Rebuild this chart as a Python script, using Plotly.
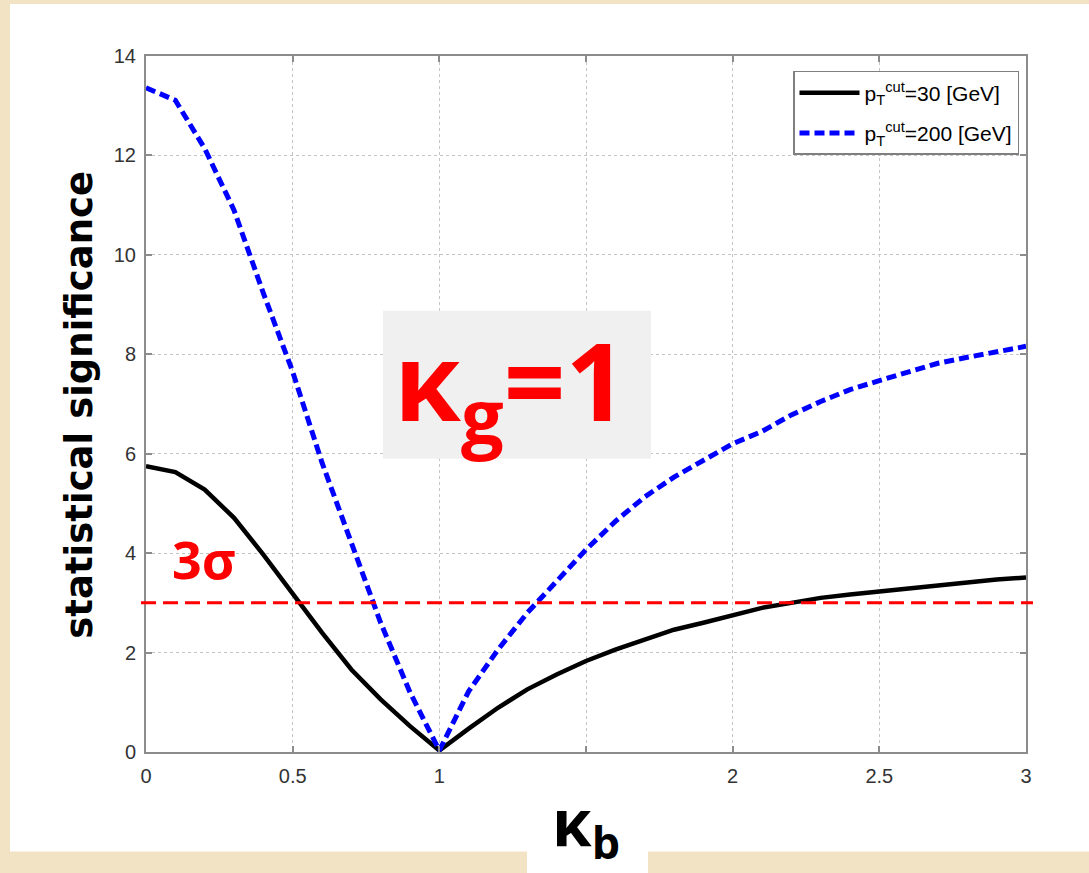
import plotly.graph_objects as go

# kappa_b scan points
kappa_b = [0.0, 0.1, 0.2, 0.3, 0.4, 0.5, 0.6, 0.7, 0.8, 0.9, 1.0,
           1.1, 1.2, 1.3, 1.4, 1.5, 1.6, 1.7, 1.8, 1.9, 2.0,
           2.1, 2.2, 2.3, 2.4, 2.5, 2.6, 2.7, 2.8, 2.9, 3.0]

# statistical significance, pT cut = 30 GeV
signif_pt30 = [5.75, 5.63, 5.28, 4.71, 3.97, 3.17, 2.40, 1.66, 1.06, 0.52, 0.03,
               0.47, 0.89, 1.26, 1.56, 1.83, 2.06, 2.26, 2.46, 2.60, 2.74,
               2.90, 3.00, 3.10, 3.17, 3.23, 3.30, 3.37, 3.42, 3.47, 3.51]

# statistical significance, pT cut = 200 GeV
signif_pt200 = [13.36, 13.11, 12.14, 10.90, 9.23, 7.65, 5.82, 4.22, 2.60, 1.20, 0.03,
                1.22, 2.06, 2.80, 3.43, 4.07, 4.64, 5.13, 5.53, 5.87, 6.20,
                6.45, 6.78, 7.05, 7.29, 7.47, 7.65, 7.82, 7.94, 8.06, 8.16]

x_tickvals = [0, 0.5, 1, 1.5, 2, 2.5, 3]
x_ticktext = ["0", "0.5", "1", "", "2", "2.5", "3"]
y_tickvals = [0, 2, 4, 6, 8, 10, 12, 14]

sigma_level = 3.0
legend_names = ["p<sub>T</sub><sup>cut</sup>=30 [GeV]",
                "p<sub>T</sub><sup>cut</sup>=200 [GeV]"]

W, H = 1089, 873
L, R, T, B = 146, 1026, 56, 752.5   # plot-area pixel edges


def px(xp):
    return (xp - L) / (R - L)


def py(yp):
    return (B - yp) / (B - T)


ROUND = "DejaVu Sans, sans-serif"
HAND = "Open Sans, DejaVu Sans, sans-serif"
TICKFONT = "Liberation Sans, Arial, sans-serif"

fig = go.Figure()
fig.add_trace(go.Scatter(x=kappa_b, y=signif_pt30, mode="lines", name=legend_names[0],
                         legendgroup="pt30",
                         line=dict(color="black", width=4.5)))
fig.add_trace(go.Scatter(x=kappa_b, y=signif_pt200, mode="lines", name=legend_names[1],
                         legendgroup="pt200",
                         line=dict(color="#0000ff", width=5, dash="10px,5px")))

shapes = [
    # parchment-coloured surround is the paper; white card behind the chart
    dict(type="rect", xref="paper", yref="paper", layer="below",
         x0=px(10), x1=px(W + 5), y0=py(852), y1=py(4),
         fillcolor="white", line=dict(width=0)),
    dict(type="rect", xref="paper", yref="paper", layer="below",
         x0=px(527), x1=px(648), y0=py(H + 5), y1=py(850),
         fillcolor="white", line=dict(width=0)),
    # 3 sigma threshold
    dict(type="line", xref="paper", yref="y", layer="above",
         x0=px(141), x1=px(1033), y0=sigma_level, y1=sigma_level,
         line=dict(color="#ff0000", width=3, dash="15px,7px")),
    # grey box behind the kappa_g label
    dict(type="rect", xref="paper", yref="paper", layer="above",
         x0=px(383), x1=px(651), y0=py(459), y1=py(311),
         fillcolor="#f0f0f0", line=dict(width=0)),
]

annotations = [
    dict(text="<b>statistical significance</b>", xref="paper", yref="paper",
         x=px(80), y=py(405), textangle=-90, showarrow=False,
         xanchor="center", yanchor="middle",
         font=dict(family=ROUND, size=37, color="black")),
    dict(text="<b>κ<sub>b</sub></b>", xref="paper", yref="paper",
         x=px(586), y=py(826), showarrow=False, xanchor="center", yanchor="middle",
         font=dict(family=HAND, size=64, color="black")),
    dict(text="<b>κ<sub>g</sub>=1</b>", xref="paper", yref="paper",
         x=px(510), y=py(386), showarrow=False, xanchor="center", yanchor="middle",
         font=dict(family=HAND, size=108, color="#ff0000")),
    dict(text="<b>3σ</b>", xref="paper", yref="paper",
         x=px(204), y=py(559), showarrow=False, xanchor="center", yanchor="middle",
         font=dict(family=HAND, size=52, color="#ff0000")),
]

axis_common = dict(
    showline=True, linecolor="#8c8c8c", linewidth=2, mirror="ticks",
    ticks="inside", ticklen=6, tickcolor="#8c8c8c", tickwidth=1.5,
    showgrid=True, gridcolor="#c4c4c4", gridwidth=1, griddash="dot",
    zeroline=False, tickfont=dict(family=TICKFONT, size=20, color="#333333"),
)

fig.update_layout(
    width=W, height=H,
    margin=dict(l=L, r=W - R, t=T, b=H - B),
    paper_bgcolor="#f2e3c5", plot_bgcolor="white",
    xaxis=dict(range=[0, 3], tickvals=x_tickvals, ticktext=x_ticktext,
               ticklabelstandoff=5, **axis_common),
    yaxis=dict(range=[0, 14], tickvals=y_tickvals, ticklabelstandoff=4, **axis_common),
    showlegend=True,
    legend=dict(x=px(1019), y=py(71), xanchor="right", yanchor="top",
                bgcolor="white", bordercolor="#7f7f7f", borderwidth=1.5,
                itemwidth=60, tracegroupgap=10,
                font=dict(family=TICKFONT, size=21, color="black")),
    shapes=shapes, annotations=annotations,
)

fig.write_html("out.html")
